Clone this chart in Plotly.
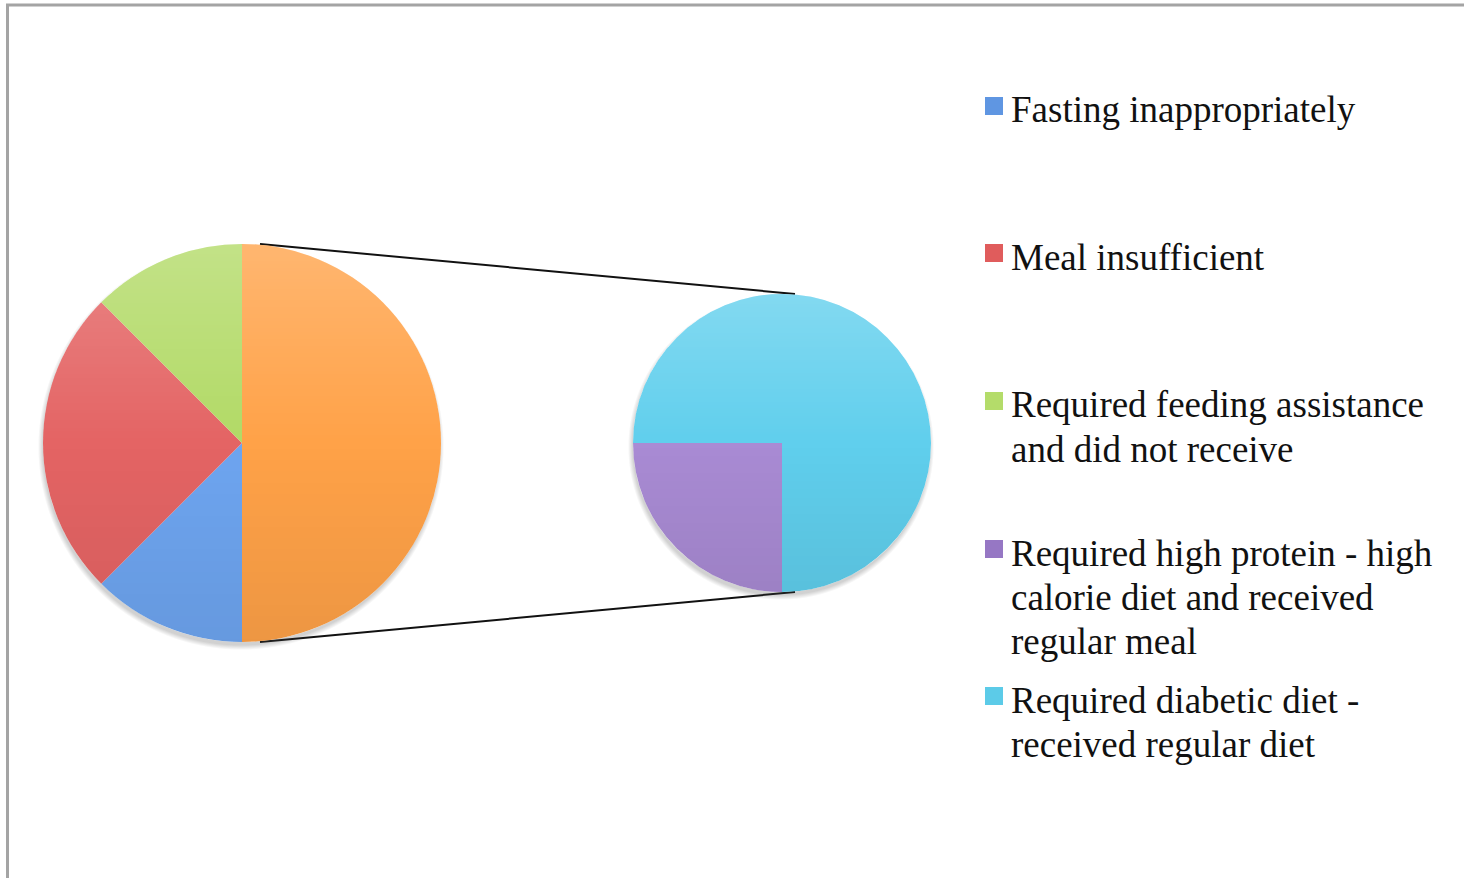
import base64
import math
import struct
import zlib

import plotly.graph_objects as go

# ---- data ----
main_labels = ["Other diet issues", "Fasting inappropriately", "Meal insufficient",
               "Required feeding assistance and did not receive"]
main_values = [4, 1, 2, 1]
main_colors = ["#ffa248", "#6ea5f0", "#e46464", "#b2da66"]

sub_labels = ["Required high protein - high calorie diet and received regular meal",
              "Required diabetic diet - received regular diet"]
sub_values = [1, 3]
sub_colors = ["#a98bd4", "#60cfed"]

legend_labels = [
    ["Fasting inappropriately"],
    ["Meal insufficient"],
    ["Required feeding assistance", "and did not receive"],
    ["Required high protein - high", "calorie diet and received", "regular meal"],
    ["Required diabetic diet -", "received regular diet"],
]
legend_colors = ["#5f96e2", "#e05c5c", "#b4dc6a", "#9677c4", "#5ccbe8"]

# ---- geometry (pixels) ----
W, H = 1464, 878
MAIN_C, MAIN_R = (242, 443), 199
SUB_C, SUB_R = (782, 443), 149
PAD = 10


def dom(c, r):
    return dict(x=[(c[0] - r) / W, (c[0] + r) / W],
                y=[1 - (c[1] + r) / H, 1 - (c[1] - r) / H])


def shade_png(r, pad=PAD, top_white=0.22, bot_black=0.07):
    """Vertical light-to-dark sheen masked to a circle plus a soft drop shadow."""
    n = 2 * (r + pad)
    c = r + pad - 0.5
    rows = []
    for y in range(n):
        row = bytearray([0])
        t = (y - pad) / (2 * r)
        for x in range(n):
            d = math.hypot(x - c, y - c)
            cov = min(1.0, max(0.0, r - d + 0.5))
            if t < 0.5:
                col, a = 255, top_white * (0.5 - t) * 2
            else:
                col, a = 0, bot_black * (t - 0.5) * 2
            a *= cov
            rgb = col
            if cov < 1.0:
                ds = math.hypot(x - c + 1, y - c - 4)
                sa = 0.25 * max(0.0, 1 - max(0.0, ds - r + 1) / 5.0) * (1 - cov)
                if sa > a:
                    rgb, a = 70, sa
            row += bytes([rgb, rgb, rgb, int(round(max(0.0, min(1.0, a)) * 255))])
        rows.append(bytes(row))
    raw = b"".join(rows)

    def chunk(tag, data):
        return struct.pack(">I", len(data)) + tag + data + struct.pack(">I", zlib.crc32(tag + data) & 0xffffffff)

    png = b"\x89PNG\r\n\x1a\n" + chunk(b"IHDR", struct.pack(">IIBBBBB", n, n, 8, 6, 0, 0, 0)) \
        + chunk(b"IDAT", zlib.compress(raw, 9)) + chunk(b"IEND", b"")
    return "data:image/png;base64," + base64.b64encode(png).decode()


fig = go.Figure()
fig.add_trace(go.Pie(labels=main_labels, values=main_values, sort=False,
                     direction="clockwise", rotation=0, textinfo="none",
                     hoverinfo="label+value", showlegend=False,
                     marker=dict(colors=main_colors, line=dict(width=0)),
                     domain=dom(MAIN_C, MAIN_R)))
fig.add_trace(go.Pie(labels=sub_labels, values=sub_values, sort=False,
                     direction="clockwise", rotation=180, textinfo="none",
                     hoverinfo="label+value", showlegend=False,
                     marker=dict(colors=sub_colors, line=dict(width=0)),
                     domain=dom(SUB_C, SUB_R)))

px = lambda x: x / W
py = lambda y: 1 - y / H

images = []
for c, r in ((MAIN_C, MAIN_R), (SUB_C, SUB_R)):
    images.append(dict(source=shade_png(r), xref="paper", yref="paper",
                       x=px(c[0] - r - PAD), y=py(c[1] - r - PAD),
                       sizex=(2 * (r + PAD)) / W, sizey=(2 * (r + PAD)) / H,
                       xanchor="left", yanchor="top", sizing="stretch", layer="above"))

shapes = []
# frame border
shapes.append(dict(type="line", xref="paper", yref="paper", x0=px(6), x1=1.01,
                   y0=py(5), y1=py(5), line=dict(color="#a4a4a4", width=3)))
shapes.append(dict(type="line", xref="paper", yref="paper", x0=px(7.5), x1=px(7.5),
                   y0=py(4), y1=-0.01, line=dict(color="#a4a4a4", width=3)))
# connector lines between pies
for sgn in (-1, 1):
    shapes.append(dict(type="line", xref="paper", yref="paper",
                       x0=px(MAIN_C[0] + 18), y0=py(MAIN_C[1] + sgn * MAIN_R),
                       x1=px(SUB_C[0] + 13), y1=py(SUB_C[1] + sgn * SUB_R),
                       line=dict(color="#111111", width=2), layer="below"))

annotations = []
first_centers = [110, 257, 405, 553, 700]
LINE_H = 44
for lines, col, yc in zip(legend_labels, legend_colors, first_centers):
    shapes.append(dict(type="rect", xref="paper", yref="paper",
                       x0=px(985), x1=px(1003), y0=py(yc - 13), y1=py(yc + 5),
                       fillcolor=col, line=dict(width=0)))
    for i, t in enumerate(lines):
        annotations.append(dict(text=t, xref="paper", yref="paper",
                                x=px(1009), y=py(yc + i * LINE_H),
                                xanchor="left", yanchor="middle", showarrow=False,
                                font=dict(family="Liberation Serif", size=37, color="#111111")))

fig.update_layout(width=W, height=H, margin=dict(l=0, r=0, t=0, b=0),
                  paper_bgcolor="white", plot_bgcolor="white",
                  shapes=shapes, annotations=annotations, images=images)
fig.write_html("out.html")
